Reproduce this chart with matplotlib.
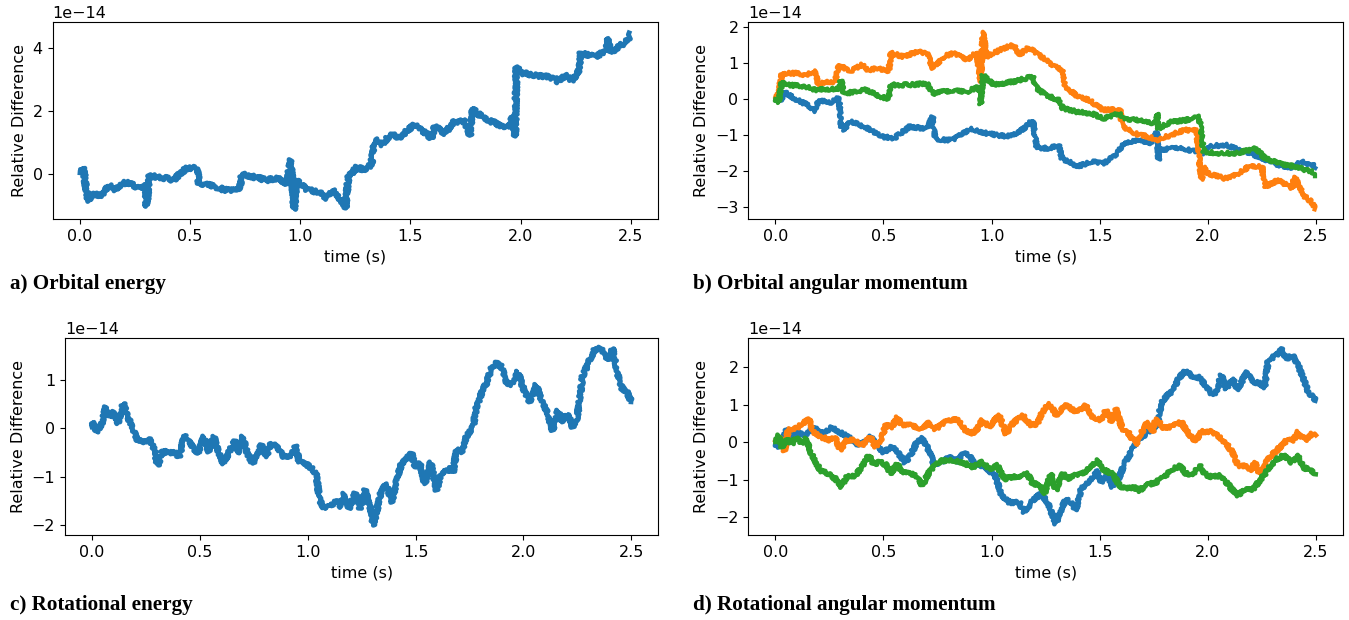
import matplotlib
matplotlib.use("Agg")
import matplotlib.pyplot as plt

# ---------------- data (values in units of 1e-14) ----------------
# a) Orbital energy
a_t = [0.0, 0.015, 0.022, 0.038, 0.06, 0.085, 0.106, 0.136, 0.16, 0.19, 0.227, 0.26, 0.295, 0.302, 0.315,
       0.36, 0.423, 0.484, 0.53, 0.54, 0.59, 0.65, 0.71, 0.725, 0.733, 0.786, 0.847, 0.907, 0.938,
       0.957, 0.972, 0.983, 1.028, 1.089, 1.12, 1.15, 1.195, 1.205, 1.218, 1.256, 1.3, 1.323, 1.339,
       1.37, 1.414, 1.444, 1.52, 1.596, 1.611, 1.656, 1.70, 1.747, 1.77, 1.78, 1.83, 1.883, 1.943,
       1.966, 1.975, 1.981, 2.0, 2.079, 2.155, 2.17, 2.2, 2.231, 2.26, 2.273, 2.337, 2.39, 2.397,
       2.405, 2.44, 2.487, 2.5]
a_y = [0.03, 0.2, -0.2, -0.88, -0.61, -0.72, -0.61, -0.35, -0.5, -0.3, -0.3, -0.45, -0.4, -1.04, -0.08,
       -0.1, -0.2, 0.18, 0.18, -0.3, -0.35, -0.5, -0.55, -0.45, 0.0, -0.1, -0.2, -0.15, -0.35,
       0.44, -1.14, -0.2, -0.5, -0.6, -0.77, -0.5, -0.95, -1.1, -0.1, 0.2, 0.1, 0.34, 1.08,
       0.92, 1.29, 1.13, 1.56, 1.13, 1.5, 1.29, 1.66, 1.66, 1.22, 2.08, 1.77, 1.61, 1.45,
       1.82, 1.19, 3.4, 3.2, 3.12, 3.04, 2.92, 3.13, 2.97, 3.13, 3.83, 3.72, 3.9, 4.3,
       3.85, 4.0, 4.25, 4.45]

# b) Orbital angular momentum (three components)
b_t1 = [0.0, 0.023, 0.043, 0.092, 0.14, 0.185, 0.197, 0.26, 0.293, 0.305, 0.317, 0.347, 0.415, 0.49,
        0.55, 0.62, 0.7, 0.727, 0.74, 0.765, 0.823, 0.9, 0.977, 1.07, 1.13, 1.19, 1.21, 1.27, 1.31,
        1.325, 1.40, 1.46, 1.52, 1.58, 1.61, 1.68, 1.74, 1.765, 1.772, 1.78, 1.86, 1.95, 1.98, 2.0,
        2.08, 2.14, 2.2, 2.265, 2.326, 2.39, 2.43, 2.48, 2.5]
b_y1 = [0.0, -0.05, 0.2, 0.0, -0.14, -0.33, -0.05, -0.09, 0.06, -0.77, -0.86, -0.63, -0.77, -1.04,
        -1.08, -0.77, -0.82, -0.5, -1.08, -1.13, -1.13, -0.82, -0.95, -1.04, -0.91, -0.59, -1.36, -1.36, -1.27,
        -1.64, -1.87, -1.73, -1.78, -1.5, -1.22, -1.13, -1.22, -0.91, -1.68, -1.4, -1.36, -1.45, -1.5, -1.31,
        -1.27, -1.4, -1.5, -1.68, -1.82, -1.91, -1.73, -1.82, -1.87]
b_t2 = [0.0, 0.015, 0.03, 0.092, 0.139, 0.185, 0.197, 0.23, 0.277, 0.293, 0.347, 0.40, 0.43, 0.47,
        0.524, 0.535, 0.593, 0.655, 0.7, 0.73, 0.777, 0.823, 0.885, 0.931, 0.95, 0.96, 0.977, 1.04,
        1.1, 1.13, 1.17, 1.23, 1.294, 1.33, 1.34, 1.40, 1.45, 1.516, 1.594, 1.605, 1.66, 1.72, 1.77,
        1.83, 1.895, 1.948, 1.97, 1.985, 2.0, 2.08, 2.14, 2.19, 2.25, 2.265, 2.326, 2.39, 2.4,
        2.45, 2.48, 2.5]
b_y2 = [0.06, 0.15, 0.71, 0.71, 0.66, 0.76, 0.39, 0.48, 0.48, 0.94, 0.76, 0.94, 0.8, 0.85,
        0.76, 1.27, 1.17, 1.31, 1.27, 0.85, 1.17, 1.27, 1.08, 1.3, 0.48, 1.86, 1.17, 1.36,
        1.5, 1.22, 1.43, 1.17, 0.9, 0.8, 0.34, 0.06, -0.03, -0.3, -0.3, -0.77, -0.95, -1.04, -1.13,
        -0.99, -0.86, -0.86, -2.24, -1.87, -2.06, -2.2, -2.06, -1.87, -1.87, -2.43, -2.24, -2.48, -2.15,
        -2.71, -2.85, -3.03]
b_t3 = [0.0, 0.015, 0.03, 0.06, 0.14, 0.19, 0.29, 0.305, 0.315, 0.37, 0.415, 0.49, 0.524, 0.535,
        0.62, 0.7, 0.73, 0.823, 0.885, 0.94, 0.95, 0.96, 1.01, 1.1, 1.19, 1.21, 1.25, 1.31, 1.33,
        1.40, 1.46, 1.52, 1.59, 1.61, 1.70, 1.755, 1.765, 1.77, 1.83, 1.895, 1.96, 1.98, 2.05, 2.14,
        2.22, 2.265, 2.326, 2.403, 2.48, 2.5]
b_y3 = [0.0, -0.09, 0.48, 0.39, 0.34, 0.25, 0.29, 0.52, 0.15, 0.2, 0.25, 0.06, 0.0, 0.39,
        0.39, 0.43, 0.15, 0.25, 0.2, 0.34, -0.14, 0.66, 0.39, 0.48, 0.62, 0.29, 0.11, -0.03, -0.26,
        -0.36, -0.4, -0.54, -0.4, -0.54, -0.59, -0.68, -0.4, -0.82, -0.63, -0.59, -0.5, -1.46, -1.5, -1.5,
        -1.36, -1.64, -1.78, -1.87, -2.01, -2.1]

# c) Rotational energy
c_t = [0.0, 0.005, 0.02, 0.045, 0.065, 0.085, 0.1, 0.12, 0.146, 0.167, 0.18, 0.21, 0.24, 0.265, 0.29,
       0.305, 0.33, 0.35, 0.38, 0.405, 0.43, 0.457, 0.49, 0.52, 0.54, 0.565, 0.588, 0.61, 0.635,
       0.665, 0.675, 0.7, 0.72, 0.745, 0.785, 0.81, 0.83, 0.86, 0.89, 0.92, 0.945, 0.96, 0.99, 1.02,
       1.04, 1.055, 1.08, 1.11, 1.14, 1.155, 1.17, 1.19, 1.22, 1.243, 1.266, 1.29, 1.305, 1.328,
       1.343, 1.366, 1.39, 1.412, 1.435, 1.482, 1.497, 1.52, 1.543, 1.57, 1.597, 1.62, 1.66, 1.674,
       1.69, 1.713, 1.736, 1.767, 1.782, 1.805, 1.828, 1.851, 1.874, 1.897, 1.92, 1.943, 1.974,
       1.997, 2.028, 2.059, 2.09, 2.112, 2.135, 2.16, 2.18, 2.205, 2.228, 2.25, 2.274, 2.297, 2.328,
       2.359, 2.39, 2.413, 2.436, 2.459, 2.475, 2.5]
c_y = [0.03, 0.13, -0.08, 0.09, 0.44, 0.23, 0.34, 0.1, 0.52, 0.23, 0.1, -0.25, -0.28, -0.21, -0.45,
       -0.77, -0.45, -0.52, -0.49, -0.59, -0.14, -0.31, -0.52, -0.17, -0.49, -0.17, -0.52, -0.73, -0.49,
       -0.25, -0.52, -0.17, -0.52, -0.73, -0.35, -0.59, -0.31, -0.38, -0.59, -0.56, -0.35, -0.7, -0.73, -0.84,
       -0.94, -1.49, -1.67, -1.6, -1.49, -1.63, -1.35, -1.67, -1.35, -1.67, -1.28, -1.63, -2.01, -1.56,
       -1.25, -1.15, -1.53, -1.08, -0.73, -0.52, -0.8, -0.73, -1.15, -0.7, -1.28, -0.94, -0.84, -0.91,
       -0.45, -0.49, -0.17, 0.03, 0.44, 0.72, 0.93, 1.24, 1.35, 1.28, 0.96, 0.9, 1.17,
       0.86, 0.55, 0.9, 0.51, 0.3, -0.04, 0.37, 0.13, 0.3, 0.03, 0.23, 1.07, 1.31, 1.62,
       1.66, 1.42, 1.66, 1.14, 0.8, 0.8, 0.55]

# d) Rotational angular momentum (three components)
d_t1 = [0.0, 0.015, 0.038, 0.053, 0.069, 0.107, 0.138, 0.177, 0.215, 0.262, 0.308, 0.339, 0.37, 0.4,
        0.44, 0.47, 0.5, 0.54, 0.57, 0.6, 0.625, 0.655, 0.68, 0.702, 0.733, 0.772, 0.81, 0.834, 0.872,
        0.896, 0.927, 0.973, 1.02, 1.042, 1.081, 1.128, 1.15, 1.19, 1.228, 1.259, 1.297, 1.32, 1.344,
        1.367, 1.39, 1.413, 1.436, 1.467, 1.49, 1.506, 1.537, 1.56, 1.591, 1.614, 1.645, 1.676, 1.714,
        1.745, 1.768, 1.784, 1.807, 1.838, 1.869, 1.9, 1.93, 1.961, 1.992, 2.023, 2.039, 2.062, 2.085,
        2.116, 2.139, 2.178, 2.209, 2.24, 2.263, 2.279, 2.317, 2.34, 2.363, 2.394, 2.418, 2.441, 2.464,
        2.487, 2.5]
d_y1 = [-0.04, -0.12, 0.14, 0.36, 0.19, 0.23, 0.19, 0.41, 0.23, 0.41, 0.23, 0.14, -0.04, -0.04,
        0.14, -0.08, -0.26, -0.12, -0.3, -0.53, -0.35, 0.01, 0.1, -0.12, -0.57, -0.53, -0.35, -0.53, -0.3,
        -0.35, -0.57, -0.66, -0.92, -1.37, -1.6, -1.6, -1.86, -1.55, -1.37, -1.6, -2.17, -1.82, -1.51,
        -1.6, -1.82, -1.24, -1.11, -0.93, -0.75, -1.06, -0.88, -1.19, -0.93, -0.57, -0.26, 0.05, 0.23,
        0.36, 0.5, 1.03, 1.21, 1.39, 1.74, 1.92, 1.7, 1.74, 1.48, 1.26, 1.34, 1.79, 1.43,
        1.7, 1.39, 1.88, 1.61, 1.57, 1.48, 2.19, 2.32, 2.5, 2.23, 2.32, 2.05, 1.7, 1.34,
        1.21, 1.12]
d_t2 = [0.0, 0.022, 0.042, 0.06, 0.107, 0.153, 0.177, 0.215, 0.254, 0.277, 0.3, 0.331, 0.37, 0.4,
        0.44, 0.463, 0.494, 0.51, 0.54, 0.563, 0.587, 0.633, 0.68, 0.71, 0.74, 0.787, 0.841, 0.88,
        0.92, 0.957, 0.988, 1.035, 1.066, 1.097, 1.143, 1.182, 1.212, 1.235, 1.267, 1.3, 1.313, 1.344,
        1.39, 1.436, 1.467, 1.506, 1.529, 1.552, 1.575, 1.606, 1.637, 1.668, 1.691, 1.722, 1.745, 1.76,
        1.799, 1.838, 1.877, 1.9, 1.939, 1.97, 2.024, 2.078, 2.109, 2.14, 2.179, 2.202, 2.217, 2.24,
        2.279, 2.318, 2.364, 2.395, 2.418, 2.449, 2.48, 2.5]
d_y2 = [0.05, 0.14, -0.22, 0.32, 0.41, 0.63, 0.28, 0.14, 0.05, 0.14, -0.22, 0.05, 0.05, -0.08,
        0.14, -0.12, 0.14, 0.45, 0.41, 0.67, 0.45, 0.45, 0.36, 0.54, 0.36, 0.54, 0.63, 0.32,
        0.23, 0.59, 0.41, 0.72, 0.23, 0.5, 0.72, 0.45, 0.5, 0.81, 1.03, 0.72, 0.81, 0.99,
        0.81, 0.99, 0.68, 0.59, 0.85, 0.54, 0.9, 0.32, 0.23, -0.08, 0.23, 0.54, 0.28, 0.63,
        0.36, 0.45, 0.54, 0.32, 0.01, 0.28, 0.28, 0.01, -0.22, -0.62, -0.62, -0.75, -0.53, -0.84,
        -0.44, -0.22, 0.05, 0.05, 0.28, 0.05, 0.23, 0.23]
d_t3 = [0.0, 0.015, 0.03, 0.053, 0.076, 0.1, 0.123, 0.141, 0.16, 0.184, 0.207, 0.246, 0.277, 0.305,
        0.331, 0.37, 0.4, 0.432, 0.455, 0.486, 0.517, 0.532, 0.563, 0.587, 0.617, 0.648, 0.68, 0.71,
        0.74, 0.772, 0.818, 0.865, 0.911, 0.957, 0.988, 1.027, 1.058, 1.097, 1.143, 1.166, 1.19,
        1.221, 1.244, 1.274, 1.297, 1.328, 1.359, 1.39, 1.421, 1.452, 1.49, 1.521, 1.56, 1.591,
        1.622, 1.653, 1.684, 1.714, 1.76, 1.799, 1.83, 1.869, 1.9, 1.93, 1.961, 1.992, 2.023, 2.054,
        2.085, 2.116, 2.139, 2.17, 2.209, 2.248, 2.279, 2.31, 2.349, 2.387, 2.418, 2.441, 2.472, 2.5]
d_y3 = [0.01, 0.19, -0.12, 0.1, -0.04, 0.14, -0.04, 0.1, -0.22, -0.48, -0.75, -0.84, -0.97, -1.19,
        -0.93, -0.88, -0.66, -0.35, -0.57, -0.53, -0.62, -0.84, -0.57, -0.8, -0.84, -0.84, -1.15, -0.8,
        -0.62, -0.48, -0.48, -0.53, -0.66, -0.53, -0.71, -0.62, -0.97, -0.93, -0.88, -0.84, -1.11,
        -1.11, -1.37, -0.84, -1.28, -0.84, -0.97, -0.84, -0.84, -0.66, -0.48, -0.75, -0.84, -1.15,
        -1.24, -1.19, -1.28, -1.15, -1.06, -0.93, -0.75, -0.62, -0.84, -0.84, -0.62, -0.88, -0.93, -0.88,
        -1.06, -1.28, -1.41, -1.28, -1.24, -0.97, -0.71, -0.48, -0.35, -0.53, -0.35, -0.66, -0.75, -0.84]

captions = ["a) Orbital energy", "b) Orbital angular momentum",
            "c) Rotational energy", "d) Rotational angular momentum"]
SCALE = 1e-14

# ---------------- figure ----------------
W, H = 1349, 620
fig = plt.figure(figsize=(W / 100, H / 100), dpi=100)
FS = 11.5
plt.rcParams["font.size"] = FS

def make_ax(l, r, t, b):
    return fig.add_axes([l / W, 1 - b / H, (r - l) / W, (b - t) / H])

ax_a = make_ax(52.5, 658.3, 22, 219)
ax_b = make_ax(748.3, 1343, 22, 219)
ax_c = make_ax(64.9, 658.3, 338, 535)
ax_d = make_ax(748.3, 1343, 338, 535)

def sc(v):
    return [x * SCALE for x in v]

def trace(ax, t, y, color, lw, amp):
    ln, = ax.plot(t, sc(y), color=color, lw=lw, solid_joinstyle="round")
    ln.set_sketch_params(scale=amp, length=1.5, randomness=3)

trace(ax_a, a_t, a_y, "C0", 3.5, 2.0)
trace(ax_b, b_t1, b_y1, "C0", 3.0, 1.7)
trace(ax_b, b_t2, b_y2, "C1", 3.0, 1.7)
trace(ax_b, b_t3, b_y3, "C2", 3.0, 1.7)
trace(ax_c, c_t, c_y, "C0", 3.4, 1.8)
trace(ax_d, d_t1, d_y1, "C0", 3.3, 1.7)
trace(ax_d, d_t2, d_y2, "C1", 3.3, 1.7)
trace(ax_d, d_t3, d_y3, "C2", 3.3, 1.7)

ylims = [(-1.44, 4.82), (-3.32, 2.13), (-2.21, 1.87), (-2.47, 2.78)]
for ax, yl in zip([ax_a, ax_b, ax_c, ax_d], ylims):
    ax.set_ylim(yl[0] * SCALE, yl[1] * SCALE)
    ax.set_xlim(-0.125, 2.625)
    ax.set_xticks([0.0, 0.5, 1.0, 1.5, 2.0, 2.5])
    ax.set_xlabel("time (s)", fontsize=FS)
    ax.set_ylabel("Relative Difference", fontsize=FS)
    ax.tick_params(labelsize=FS)
    ax.yaxis.get_offset_text().set_fontsize(FS)

ax_a.set_yticks([0, 2e-14, 4e-14])
ax_b.set_yticks([-3e-14, -2e-14, -1e-14, 0, 1e-14, 2e-14])
ax_c.set_yticks([-2e-14, -1e-14, 0, 1e-14])
ax_d.set_yticks([-2e-14, -1e-14, 0, 1e-14, 2e-14])

cap_font = dict(family="Liberation Serif", fontweight="bold", fontsize=15.2, va="center", ha="left")
fig.text(10 / W, 1 - 284 / H, captions[0], **cap_font)
fig.text(693 / W, 1 - 284 / H, captions[1], **cap_font)
fig.text(10 / W, 1 - 605 / H, captions[2], **cap_font)
fig.text(693 / W, 1 - 605 / H, captions[3], **cap_font)

fig.savefig("out.png", dpi=100)
